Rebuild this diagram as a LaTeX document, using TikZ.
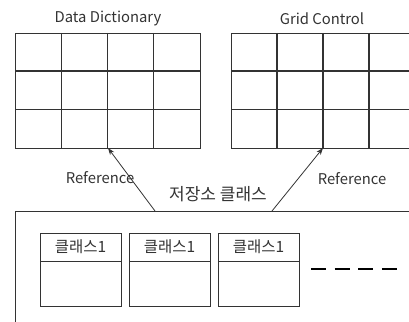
\documentclass[tikz,border=0pt]{standalone}
\usepackage{fontspec}
\setmainfont{Noto Sans CJK KR}
\usetikzlibrary{arrows.meta}
\definecolor{ink}{HTML}{333333}
\tikzset{
  gridline/.style={draw=ink, line width=1.2pt},
  boxline/.style={draw=ink, line width=0.9pt},
  lbl/.style={text=ink, font=\fontsize{14.8}{16}\selectfont, inner sep=0pt},
  refarrow/.style={draw=ink, line width=0.8pt, -{Stealth[length=7pt,width=5pt]}},
  classbox/.style={boxline, anchor=north west, minimum width=81pt, minimum height=73pt, inner sep=0pt},
  classhead/.style={text=ink, font=\fontsize{15.5}{17}\selectfont, inner sep=0pt, anchor=center},
  dashline/.style={draw=black, line width=2.6pt, dash pattern=on 15pt off 8.6pt}
}
\begin{document}
\begin{tikzpicture}[x=1pt,y=-1pt]
\useasboundingbox (0,0) rectangle (409,321);
\begin{scope}
\clip (0,0) rectangle (409,321);
% titles
\node[lbl] (t1) at (108,18.5) {Data Dictionary};
\node[lbl] (t2) at (322,18.5) {Grid Control};
% left grid
\node[gridline, anchor=north west, minimum width=185pt, minimum height=115pt, inner sep=0pt] (dd) at (15,33) {};
\foreach \x in {61.25,107.5,153.75} \draw[gridline] (\x,33) -- (\x,148);
\foreach \y in {71,109.5} \draw[gridline] (15,\y) -- (200,\y);
% right grid
\node[gridline, anchor=north west, minimum width=185pt, minimum height=115pt, inner sep=0pt] (gc) at (231,33) {};
\foreach \x in {277,323,369} \draw[gridline] (\x,33) -- (\x,148);
\foreach \y in {71,109.5} \draw[gridline] (231,\y) -- (416,\y);
% storage box
\node[boxline, anchor=north west, minimum width=420pt, minimum height=130pt, inner sep=0pt] (store) at (15,211) {};
\node[text=ink, font=\fontsize{17}{19}\selectfont, inner sep=0pt] (storelbl) at (218,194.5) {저장소 클래스};
% class boxes
\foreach \i/\x in {1/40,2/129,3/218} {
  \node[classbox] (c\i) at (\x,233) {};
  \draw[boxline] (\x,261) -- ++(81,0);
  \node[classhead] (h\i) at (\x+40.5,247) {클래스1};
}
% dashes
\coordinate (d1) at (311,269);
\coordinate (d2) at (397,269);
\draw[dashline] (d1) -- (d2);
% arrows
\coordinate (s1) at (155,211);
\coordinate (e1) at (108,148);
\coordinate (s2) at (272,211);
\coordinate (e2) at (323,148);
\draw[refarrow] (s1) -- (e1);
\draw[refarrow] (s2) -- (e2);
\node[lbl] (r1) at (100,178) {Reference};
\node[lbl] (r2) at (352,179) {Reference};
\end{scope}
\end{tikzpicture}
\end{document}
